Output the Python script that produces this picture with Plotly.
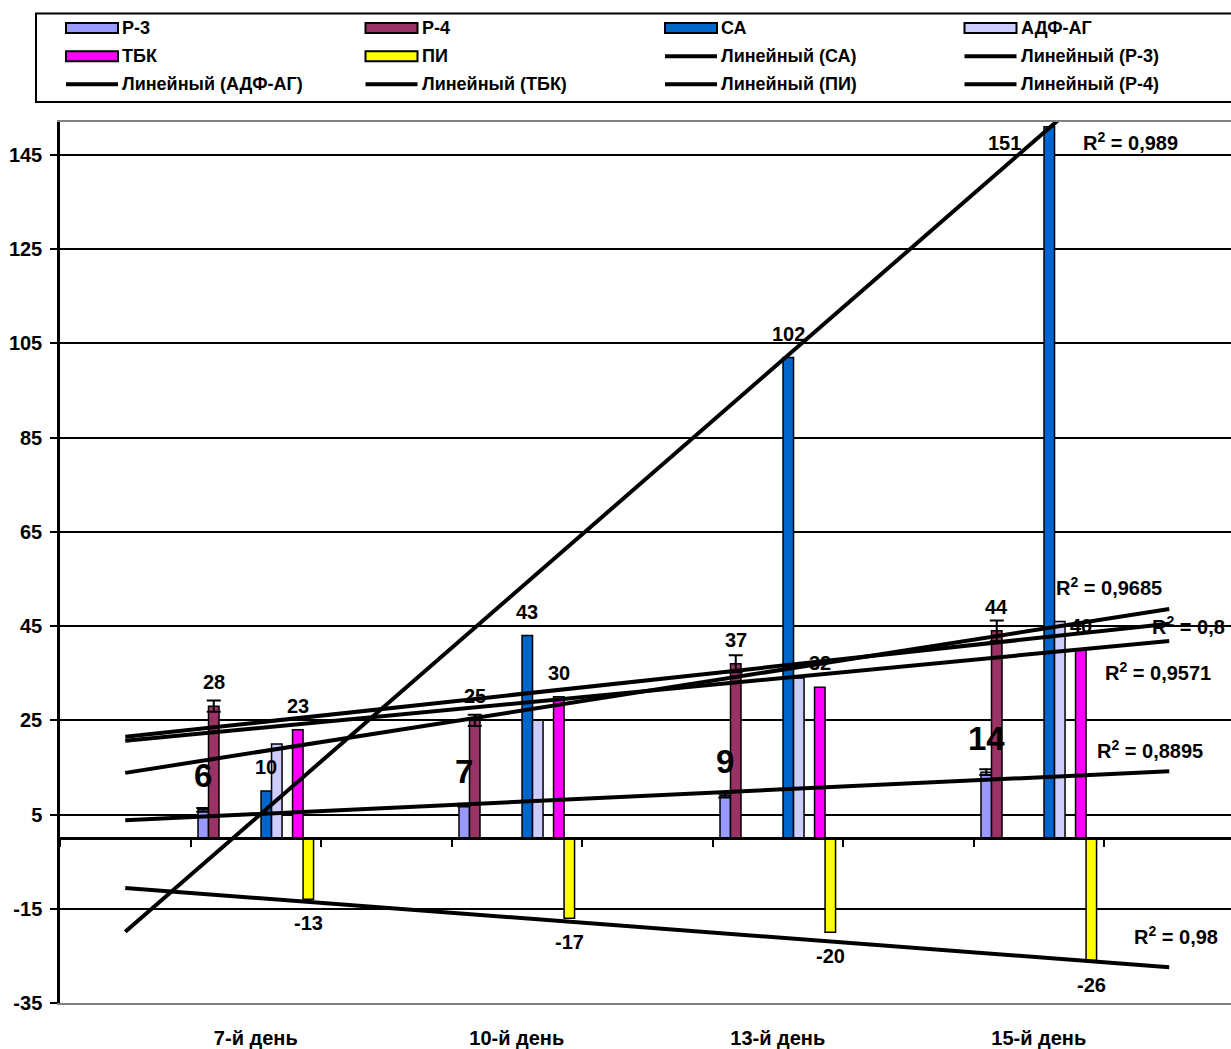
import numpy as np
import plotly.graph_objects as go

# ---------------- data ----------------
days = ["7-й день", "10-й день", "13-й день", "15-й день"]
day_slots = [2, 4, 6, 8]          # category slots 1..9, odd slots stay empty

r3 = [6, 7, 9, 14]
r3_err = [0.4, 0.3, 0.4, 0.6]
r4 = [28, 25, 37, 44]
r4_err = [1.2, 1.2, 1.8, 2.2]
sa = [10, 43, 102, 151]
adf = [20, 25, 34, 46]
tbk = [23, 30, 32, 40]
pi_vals = [-13, -17, -20, -26]

y_ticks = [-35, -15, 5, 25, 45, 65, 85, 105, 125, 145]
trend_span = [1, 9]               # trend lines run across all nine slots

# ---------------- layout geometry ----------------
W, H = 1231, 1049
ML, MR, MT, MB = 60, 0, 122, 41
PW, PH = W - ML - MR, H - MT - MB
CAT_PX = 130.5                    # width of one category slot in px
X_RANGE = [0.5, 0.5 + PW / CAT_PX]
Y_RANGE = [-35, 152]

SLOT_W = 0.0805                   # one bar width (category units)
SLOT0 = -0.4425                   # left edge of the first bar in a group

FONT = "Liberation Sans, Arial, sans-serif"

series = [
    # name, values, errors, colour, slot in group, label style
    dict(name="Р-3", y=r3, err=r3_err, color="#9999FF", slot=0, label="big"),
    dict(name="Р-4", y=r4, err=r4_err, color="#993366", slot=1, label="above"),
    dict(name="СА", y=sa, err=None, color="#0066CC", slot=6, label="above"),
    dict(name="АДФ-АГ", y=adf, err=None, color="#CCCCFF", slot=7, label=None),
    dict(name="ТБК", y=tbk, err=None, color="#FF00FF", slot=9, label="above"),
    dict(name="ПИ", y=pi_vals, err=None, color="#FFFF00", slot=10, label="below"),
]
by_name = {s["name"]: s for s in series}

trend_order = ["СА", "Р-3", "АДФ-АГ", "ТБК", "ПИ", "Р-4"]
# R² label anchors (x in slot units, y in value units, x-anchor)
r2_place = {
    "СА": (8.70, 147.8, "center"),
    "АДФ-АГ": (8.54, 53.4, "center"),
    "Р-4": (8.85, 45.2, "left"),
    "ТБК": (8.91, 35.3, "center"),
    "Р-3": (8.85, 18.9, "center"),
    "ПИ": (9.05, -20.6, "center"),
}


def bold(t):
    return f"<b>{t}</b>"


def font(size):
    return dict(family=FONT, size=size, color="black")


def bar_center(slot_pos, slot):
    return slot_pos + SLOT0 + (slot + 0.5) * SLOT_W


def fmt_r2(v):
    s = f"{round(v, 4):.4f}".rstrip("0").rstrip(".")
    return s.replace(".", ",")


def px_x(px):
    return (px - ML) / PW


def px_y(py):
    return (H - MB - py) / PH


fig = go.Figure()

# bars
for s in series:
    err = None
    if s["err"] is not None:
        err = dict(type="data", array=s["err"], visible=True, color="black",
                   thickness=2, width=7)
    fig.add_trace(go.Bar(
        x=day_slots, y=s["y"], name=s["name"],
        offset=SLOT0 + s["slot"] * SLOT_W, width=SLOT_W,
        marker=dict(color=s["color"], line=dict(color="black", width=1.5)),
        error_y=err, showlegend=False, cliponaxis=True,
    ))

# linear trend lines and R² labels
annotations = []
xs = np.array(day_slots, dtype=float)
for name in trend_order:
    ys = np.array(by_name[name]["y"], dtype=float)
    k, b = np.polyfit(xs, ys, 1)
    fit = k * xs + b
    r2 = 1 - np.sum((ys - fit) ** 2) / np.sum((ys - ys.mean()) ** 2)
    tx = np.array(trend_span, dtype=float)
    fig.add_trace(go.Scatter(
        x=tx, y=k * tx + b, mode="lines", name=f"Линейный ({name})",
        line=dict(color="black", width=4), showlegend=False,
        hoverinfo="skip",
    ))
    ax, ay, anchor = r2_place[name]
    annotations.append(dict(
        x=ax, y=ay, xref="x", yref="y", showarrow=False, xanchor=anchor,
        yanchor="middle", text=bold(f"R<sup>2</sup> = {fmt_r2(r2)}"),
        font=font(20),
    ))

# data labels
for s in series:
    if s["label"] is None:
        continue
    for pos, v in zip(day_slots, s["y"]):
        cx = bar_center(pos, s["slot"])
        lab = dict(x=cx, y=v, xref="x", yref="y", showarrow=False,
                   text=bold(v), xanchor="center", yanchor="middle",
                   font=font(20))
        if s["label"] == "big":
            lab["yshift"] = 34
            lab["font"] = font(33)
        elif s["label"] == "below":
            lab["yshift"] = -24
        elif v + 5 > Y_RANGE[1]:
            # no room above the bar: the label sits to its left
            lab["y"] = Y_RANGE[1]
            lab["yanchor"] = "top"
            lab["xanchor"] = "right"
            lab["yshift"] = -8
            lab["xshift"] = -26
        else:
            lab["yshift"] = 24
        annotations.append(lab)

# hand-built legend (4 columns x 3 rows) inside a framed box
legend_entries = [("bar", s["name"], s["color"]) for s in series]
legend_entries += [("line", f"Линейный ({n})", "black") for n in trend_order]
shapes = [dict(type="rect", xref="paper", yref="paper",
               x0=px_x(36), x1=px_x(1262), y0=px_y(102), y1=px_y(13),
               line=dict(color="black", width=2), fillcolor="white",
               layer="above")]
COL_X0, COL_STEP, ROW_Y0, ROW_STEP, SYM_W = 66, 299.5, 27.5, 28.3, 52
for i, (kind, label, color) in enumerate(legend_entries):
    col, row = i % 4, i // 4
    sx = COL_X0 + col * COL_STEP
    sy = ROW_Y0 + row * ROW_STEP
    if kind == "bar":
        shapes.append(dict(type="rect", xref="paper", yref="paper",
                           x0=px_x(sx), x1=px_x(sx + SYM_W),
                           y0=px_y(sy + 5), y1=px_y(sy - 5),
                           fillcolor=color,
                           line=dict(color="black", width=2), layer="above"))
    else:
        shapes.append(dict(type="line", xref="paper", yref="paper",
                           x0=px_x(sx), x1=px_x(sx + SYM_W),
                           y0=px_y(sy), y1=px_y(sy),
                           line=dict(color="black", width=4), layer="above"))
    annotations.append(dict(
        x=px_x(sx + SYM_W + 2), y=px_y(sy), xref="paper", yref="paper",
        xanchor="left", yanchor="middle", showarrow=False, text=bold(label),
        font=font(18),
    ))

# empty trace so the zero-level category axis gets drawn
fig.add_trace(go.Scatter(x=[None], y=[None], xaxis="x2", yaxis="y",
                         showlegend=False, hoverinfo="skip"))

fig.update_layout(
    width=W, height=H,
    margin=dict(l=ML, r=MR, t=MT, b=MB, pad=0),
    paper_bgcolor="white", plot_bgcolor="white",
    barmode="overlay", showlegend=False,
    font=dict(family=FONT, color="black"),
    xaxis=dict(
        range=X_RANGE, tickvals=day_slots, ticktext=[bold(d) for d in days],
        tickfont=font(20),
        ticks="", showgrid=False, zeroline=False,
        showline=True, linecolor="#808080", linewidth=2, mirror=True,
        ticklabelstandoff=16,
    ),
    xaxis2=dict(
        overlaying="x", anchor="free",
        position=(0 - Y_RANGE[0]) / (Y_RANGE[1] - Y_RANGE[0]),
        range=X_RANGE, tickvals=[v + 0.5 for v in range(0, 10)],
        ticks="outside", ticklen=7, tickwidth=2, tickcolor="black",
        showticklabels=False, showgrid=False, zeroline=False,
        showline=True, linecolor="black", linewidth=2.5,
    ),
    yaxis=dict(
        range=Y_RANGE, tickvals=y_ticks, ticktext=[bold(v) for v in y_ticks],
        tickfont=font(20),
        ticks="outside", ticklen=7, tickwidth=2, tickcolor="black",
        showgrid=True, gridcolor="black", gridwidth=1.5, zeroline=False,
        showline=True, linecolor="black", linewidth=2.5,
        ticklabelstandoff=4,
    ),
    shapes=shapes,
    annotations=annotations,
)

fig.write_html("out.html")
